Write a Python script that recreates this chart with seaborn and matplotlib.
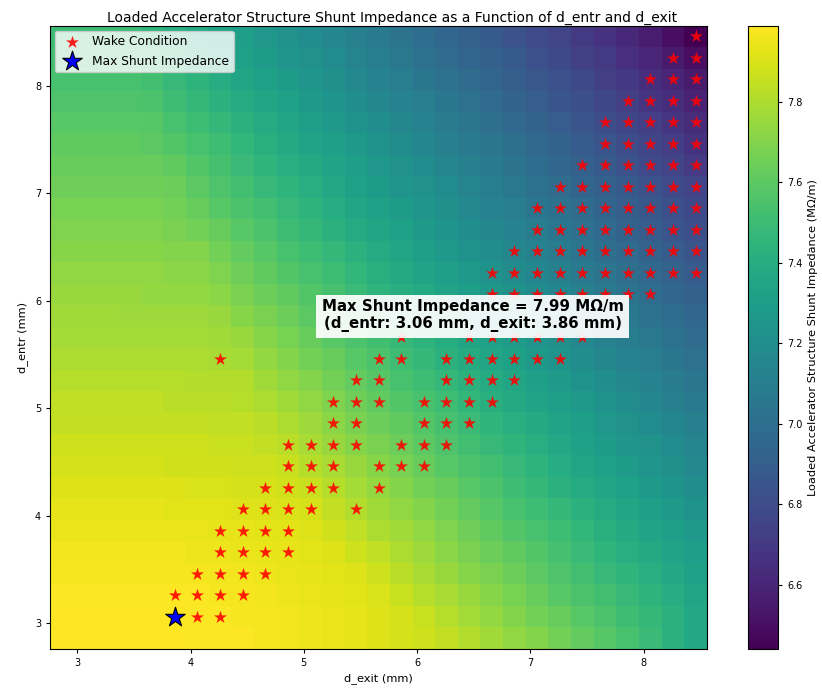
import matplotlib
matplotlib.use("Agg")
import matplotlib.pyplot as plt
import numpy as np
import pandas as pd
import seaborn as sns

# Grid of gap settings (mm); the same grid is used for d_exit (columns) and d_entr (rows)
d_grid = [2.86, 3.06, 3.26, 3.46, 3.66, 3.86, 4.06, 4.26, 4.46, 4.66,
          4.86, 5.06, 5.26, 5.46, 5.66, 5.86, 6.06, 6.26, 6.46, 6.66,
          6.86, 7.06, 7.26, 7.46, 7.66, 7.86, 8.06, 8.26, 8.46]

# Loaded shunt impedance (MOhm/m); one row per d_entr value, bottom row first
impedance = [
    [7.99, 7.99, 7.99, 7.99, 7.99, 7.99, 7.98, 7.98, 7.98, 7.97, 7.96, 7.95, 7.94, 7.93, 7.91, 7.89, 7.87, 7.85, 7.81, 7.77, 7.73, 7.70, 7.66, 7.62, 7.58, 7.54, 7.49, 7.43, 7.37],
    [7.99, 7.99, 7.99, 7.99, 7.99, 7.99, 7.98, 7.98, 7.97, 7.97, 7.96, 7.95, 7.94, 7.93, 7.91, 7.89, 7.86, 7.82, 7.78, 7.74, 7.70, 7.66, 7.63, 7.59, 7.55, 7.51, 7.47, 7.43, 7.37],
    [7.98, 7.98, 7.98, 7.98, 7.98, 7.98, 7.98, 7.97, 7.97, 7.96, 7.95, 7.94, 7.93, 7.92, 7.90, 7.86, 7.82, 7.79, 7.75, 7.71, 7.67, 7.63, 7.59, 7.55, 7.52, 7.48, 7.44, 7.40, 7.36],
    [7.97, 7.97, 7.97, 7.97, 7.97, 7.97, 7.97, 7.96, 7.96, 7.95, 7.94, 7.93, 7.92, 7.91, 7.87, 7.83, 7.79, 7.75, 7.71, 7.68, 7.64, 7.60, 7.56, 7.52, 7.48, 7.45, 7.41, 7.37, 7.33],
    [7.96, 7.96, 7.96, 7.96, 7.96, 7.96, 7.95, 7.95, 7.94, 7.94, 7.93, 7.92, 7.91, 7.87, 7.84, 7.80, 7.76, 7.72, 7.68, 7.64, 7.61, 7.57, 7.53, 7.49, 7.45, 7.41, 7.38, 7.34, 7.30],
    [7.94, 7.94, 7.94, 7.94, 7.94, 7.94, 7.94, 7.93, 7.93, 7.92, 7.92, 7.91, 7.88, 7.84, 7.80, 7.77, 7.73, 7.69, 7.65, 7.61, 7.57, 7.54, 7.50, 7.46, 7.42, 7.38, 7.34, 7.31, 7.27],
    [7.93, 7.93, 7.93, 7.93, 7.93, 7.92, 7.92, 7.92, 7.91, 7.91, 7.90, 7.89, 7.85, 7.81, 7.77, 7.73, 7.70, 7.66, 7.62, 7.58, 7.54, 7.50, 7.47, 7.43, 7.39, 7.35, 7.31, 7.27, 7.23],
    [7.91, 7.91, 7.91, 7.91, 7.91, 7.91, 7.90, 7.90, 7.89, 7.89, 7.88, 7.86, 7.82, 7.78, 7.74, 7.70, 7.66, 7.63, 7.59, 7.55, 7.51, 7.47, 7.43, 7.39, 7.36, 7.32, 7.28, 7.24, 7.20],
    [7.89, 7.89, 7.89, 7.89, 7.89, 7.88, 7.88, 7.88, 7.87, 7.87, 7.86, 7.82, 7.79, 7.75, 7.71, 7.67, 7.63, 7.59, 7.55, 7.52, 7.48, 7.44, 7.40, 7.36, 7.32, 7.29, 7.25, 7.21, 7.17],
    [7.87, 7.87, 7.87, 7.87, 7.87, 7.87, 7.87, 7.86, 7.86, 7.85, 7.83, 7.79, 7.75, 7.71, 7.68, 7.64, 7.60, 7.56, 7.52, 7.48, 7.45, 7.41, 7.37, 7.33, 7.29, 7.25, 7.22, 7.18, 7.14],
    [7.85, 7.85, 7.85, 7.85, 7.85, 7.85, 7.85, 7.84, 7.84, 7.83, 7.80, 7.76, 7.72, 7.68, 7.64, 7.61, 7.57, 7.53, 7.49, 7.45, 7.41, 7.38, 7.34, 7.30, 7.26, 7.22, 7.18, 7.15, 7.11],
    [7.84, 7.84, 7.84, 7.84, 7.84, 7.83, 7.83, 7.83, 7.82, 7.80, 7.77, 7.73, 7.69, 7.65, 7.61, 7.57, 7.54, 7.50, 7.46, 7.42, 7.38, 7.34, 7.31, 7.27, 7.23, 7.19, 7.15, 7.11, 7.07],
    [7.82, 7.82, 7.82, 7.82, 7.82, 7.82, 7.81, 7.81, 7.81, 7.77, 7.73, 7.70, 7.66, 7.62, 7.58, 7.54, 7.50, 7.47, 7.43, 7.39, 7.35, 7.31, 7.27, 7.23, 7.20, 7.16, 7.12, 7.08, 7.04],
    [7.80, 7.80, 7.80, 7.80, 7.80, 7.80, 7.80, 7.79, 7.78, 7.74, 7.70, 7.66, 7.63, 7.59, 7.55, 7.51, 7.47, 7.43, 7.39, 7.36, 7.32, 7.28, 7.24, 7.20, 7.16, 7.13, 7.09, 7.05, 7.01],
    [7.78, 7.78, 7.78, 7.78, 7.78, 7.78, 7.78, 7.77, 7.75, 7.71, 7.67, 7.63, 7.59, 7.55, 7.52, 7.48, 7.44, 7.40, 7.36, 7.32, 7.29, 7.25, 7.21, 7.17, 7.13, 7.09, 7.06, 7.02, 6.98],
    [7.77, 7.77, 7.77, 7.76, 7.76, 7.76, 7.76, 7.75, 7.71, 7.68, 7.64, 7.60, 7.56, 7.52, 7.48, 7.45, 7.41, 7.37, 7.33, 7.29, 7.25, 7.22, 7.18, 7.14, 7.10, 7.06, 7.02, 6.99, 6.95],
    [7.75, 7.75, 7.75, 7.75, 7.74, 7.74, 7.74, 7.72, 7.68, 7.64, 7.61, 7.57, 7.53, 7.49, 7.45, 7.41, 7.38, 7.34, 7.30, 7.26, 7.22, 7.18, 7.15, 7.11, 7.07, 7.03, 6.99, 6.95, 6.91],
    [7.73, 7.73, 7.73, 7.73, 7.73, 7.72, 7.72, 7.69, 7.65, 7.61, 7.57, 7.54, 7.50, 7.46, 7.42, 7.38, 7.34, 7.31, 7.27, 7.23, 7.19, 7.15, 7.11, 7.07, 7.04, 7.00, 6.96, 6.92, 6.88],
    [7.71, 7.71, 7.71, 7.71, 7.71, 7.70, 7.70, 7.66, 7.62, 7.58, 7.54, 7.50, 7.47, 7.43, 7.39, 7.35, 7.31, 7.27, 7.23, 7.20, 7.16, 7.12, 7.08, 7.04, 7.00, 6.97, 6.93, 6.89, 6.85],
    [7.69, 7.69, 7.69, 7.69, 7.69, 7.68, 7.66, 7.63, 7.59, 7.55, 7.51, 7.47, 7.43, 7.39, 7.36, 7.32, 7.28, 7.24, 7.20, 7.16, 7.13, 7.09, 7.05, 7.01, 6.97, 6.93, 6.89, 6.85, 6.81],
    [7.67, 7.67, 7.67, 7.67, 7.67, 7.66, 7.63, 7.59, 7.55, 7.52, 7.48, 7.44, 7.40, 7.36, 7.32, 7.29, 7.25, 7.21, 7.17, 7.13, 7.09, 7.05, 7.02, 6.98, 6.94, 6.90, 6.86, 6.82, 6.78],
    [7.65, 7.65, 7.65, 7.65, 7.65, 7.64, 7.60, 7.56, 7.52, 7.48, 7.45, 7.41, 7.37, 7.33, 7.29, 7.25, 7.22, 7.18, 7.14, 7.10, 7.06, 7.02, 6.98, 6.94, 6.91, 6.87, 6.83, 6.79, 6.75],
    [7.63, 7.63, 7.63, 7.63, 7.63, 7.61, 7.57, 7.53, 7.49, 7.45, 7.41, 7.38, 7.34, 7.30, 7.26, 7.22, 7.18, 7.14, 7.11, 7.07, 7.03, 6.99, 6.95, 6.91, 6.87, 6.83, 6.79, 6.75, 6.71],
    [7.61, 7.61, 7.61, 7.61, 7.60, 7.57, 7.54, 7.50, 7.46, 7.42, 7.38, 7.34, 7.31, 7.27, 7.23, 7.19, 7.15, 7.11, 7.07, 7.04, 7.00, 6.96, 6.92, 6.88, 6.84, 6.80, 6.76, 6.72, 6.67],
    [7.59, 7.59, 7.59, 7.59, 7.58, 7.54, 7.50, 7.47, 7.43, 7.39, 7.35, 7.31, 7.27, 7.23, 7.20, 7.16, 7.12, 7.08, 7.04, 7.00, 6.96, 6.92, 6.89, 6.85, 6.80, 6.76, 6.72, 6.68, 6.63],
    [7.56, 7.56, 7.56, 7.56, 7.55, 7.51, 7.47, 7.43, 7.39, 7.36, 7.32, 7.28, 7.24, 7.20, 7.16, 7.13, 7.09, 7.05, 7.01, 6.97, 6.93, 6.89, 6.85, 6.81, 6.77, 6.73, 6.68, 6.64, 6.59],
    [7.54, 7.54, 7.54, 7.54, 7.52, 7.48, 7.44, 7.40, 7.36, 7.32, 7.29, 7.25, 7.21, 7.17, 7.13, 7.09, 7.05, 7.02, 6.98, 6.94, 6.90, 6.86, 6.82, 6.78, 6.73, 6.69, 6.64, 6.60, 6.55],
    [7.52, 7.52, 7.52, 7.52, 7.48, 7.45, 7.41, 7.37, 7.33, 7.29, 7.25, 7.22, 7.18, 7.14, 7.10, 7.06, 7.02, 6.98, 6.94, 6.91, 6.87, 6.82, 6.78, 6.74, 6.70, 6.65, 6.60, 6.55, 6.50],
    [7.50, 7.50, 7.50, 7.49, 7.45, 7.41, 7.38, 7.34, 7.30, 7.26, 7.22, 7.18, 7.15, 7.11, 7.07, 7.03, 6.99, 6.95, 6.91, 6.87, 6.83, 6.79, 6.75, 6.70, 6.66, 6.61, 6.56, 6.50, 6.44],
]

# Settings that satisfy the wake condition: d_entr -> list of d_exit values
wake_rows = {
    3.06: [3.86, 4.06, 4.26],
    3.26: [3.86, 4.06, 4.26, 4.46],
    3.46: [4.06, 4.26, 4.46, 4.66],
    3.66: [4.26, 4.46, 4.66, 4.86],
    3.86: [4.26, 4.46, 4.66, 4.86],
    4.06: [4.46, 4.66, 4.86, 5.06, 5.46],
    4.26: [4.66, 4.86, 5.06, 5.26, 5.66],
    4.46: [4.86, 5.06, 5.26, 5.66, 5.86, 6.06],
    4.66: [4.86, 5.06, 5.26, 5.46, 5.86, 6.06, 6.26],
    4.86: [5.26, 5.46, 6.06, 6.26, 6.46],
    5.06: [5.26, 5.46, 5.66, 6.06, 6.26, 6.46, 6.66],
    5.26: [5.46, 5.66, 6.26, 6.46, 6.66, 6.86],
    5.46: [4.26, 5.66, 5.86, 6.26, 6.46, 6.66, 6.86, 7.06, 7.26],
    5.66: [5.86, 6.46, 6.66, 6.86, 7.06, 7.26, 7.46],
    6.06: [6.66, 6.86, 7.06, 7.26, 7.46, 7.66, 7.86, 8.06],
    6.26: [6.66, 6.86, 7.06, 7.26, 7.46, 7.66, 7.86, 8.06, 8.26, 8.46],
    6.46: [6.86, 7.06, 7.26, 7.46, 7.66, 7.86, 8.06, 8.26, 8.46],
    6.66: [7.06, 7.26, 7.46, 7.66, 7.86, 8.06, 8.26, 8.46],
    6.86: [7.06, 7.26, 7.46, 7.66, 7.86, 8.06, 8.26, 8.46],
    7.06: [7.26, 7.46, 7.66, 7.86, 8.06, 8.26, 8.46],
    7.26: [7.46, 7.66, 7.86, 8.06, 8.26, 8.46],
    7.46: [7.66, 7.86, 8.06, 8.26, 8.46],
    7.66: [7.66, 7.86, 8.06, 8.26, 8.46],
    7.86: [7.86, 8.06, 8.26, 8.46],
    8.06: [8.06, 8.26, 8.46],
    8.26: [8.26, 8.46],
    8.46: [8.46],
}

# Best wake-compatible setting
best_exit = 3.86
best_entr = 3.06

title = "Loaded Accelerator Structure Shunt Impedance as a Function of d_entr and d_exit"
cbar_label = "Loaded Accelerator Structure Shunt Impedance (M\u03a9/m)"

# ---------------------------------------------------------------------------
Z = np.array(impedance)
wake_df = pd.DataFrame(
    [(ex, en) for en, exits in wake_rows.items() for ex in exits],
    columns=["d_exit", "d_entr"],
)
best_df = pd.DataFrame({"d_exit": [best_exit], "d_entr": [best_entr]})
best_value = Z[d_grid.index(best_entr), d_grid.index(best_exit)]

fig = plt.figure(figsize=(8.22, 6.94), dpi=100)
ax = fig.add_axes([0.061, 0.065, 0.799, 0.898])
cax = fig.add_axes([0.910, 0.065, 0.0365, 0.898])

mesh = ax.pcolormesh(d_grid, d_grid, Z, cmap="viridis", shading="nearest")

sns.scatterplot(data=wake_df, x="d_exit", y="d_entr", marker="*", color="red",
                alpha=0.88, s=95, linewidth=0, ax=ax, label="Wake Condition",
                zorder=3)
sns.scatterplot(data=best_df, x="d_exit", y="d_entr", marker="*", color="blue",
                edgecolor="black", linewidth=0.8, s=220, ax=ax,
                label="Max Shunt Impedance", zorder=4)

ax.text(6.49, 5.86,
        f"Max Shunt Impedance = {best_value:.2f} M\u03a9/m\n"
        f"(d_entr: {best_entr:.2f} mm, d_exit: {best_exit:.2f} mm)",
        ha="center", va="center", fontsize=10.8, fontweight="bold",
        color="black", zorder=5,
        bbox=dict(facecolor="white", edgecolor="none", alpha=0.92, pad=4))

ax.set_title(title, fontsize=10, pad=3, x=0.52)
ax.set_xlabel("d_exit (mm)", fontsize=8.2, labelpad=4)
ax.set_ylabel("d_entr (mm)", fontsize=8.2, labelpad=5)
ax.set_xticks([3, 4, 5, 6, 7, 8])
ax.set_yticks([3, 4, 5, 6, 7, 8])
ax.tick_params(labelsize=7, length=3)
ax.legend(loc="upper left", fontsize=8.8, framealpha=0.8,
          borderaxespad=0.4, handletextpad=0.6)

cb = fig.colorbar(mesh, cax=cax)
cb.set_label(cbar_label, fontsize=8.2)
cb.ax.tick_params(labelsize=7, length=3)

fig.savefig("out.png", dpi=100)
